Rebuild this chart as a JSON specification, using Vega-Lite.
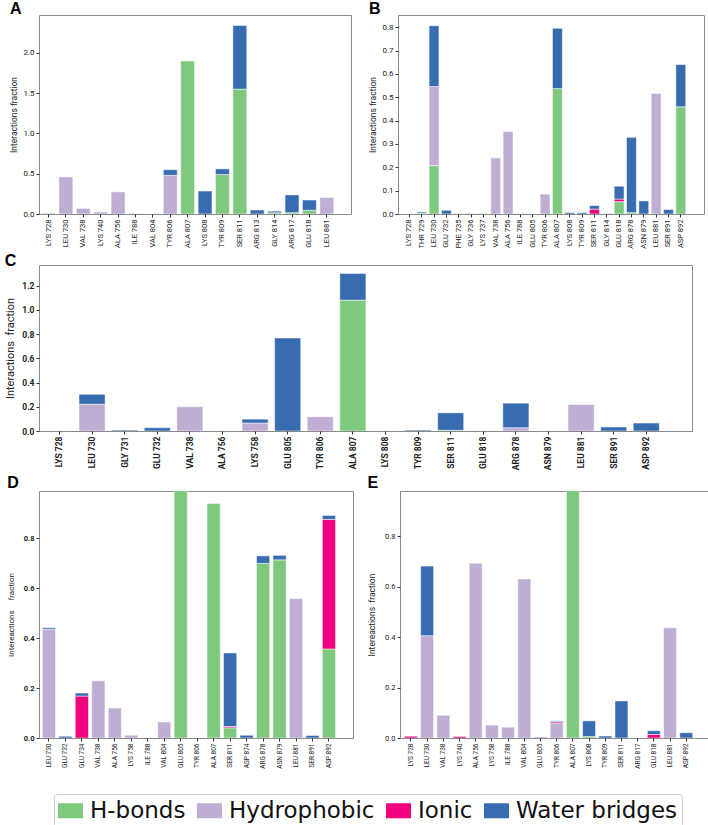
{
  "$schema": "https://vega.github.io/schema/vega-lite/v6.json",
  "background": "#ffffff",
  "padding": {"left": 4, "top": 0, "right": 1, "bottom": 1},
  "datasets": {
    "ints": [
      {"panel": "A", "res": "LYS 728", "type": "Hydrophobic", "value": 0.01},
      {"panel": "A", "res": "LEU 730", "type": "Hydrophobic", "value": 0.46},
      {"panel": "A", "res": "VAL 738", "type": "Hydrophobic", "value": 0.07},
      {"panel": "A", "res": "LYS 740", "type": "Hydrophobic", "value": 0.025},
      {"panel": "A", "res": "ALA 756", "type": "Hydrophobic", "value": 0.275},
      {"panel": "A", "res": "ILE 788", "type": "Hydrophobic", "value": 0.005},
      {"panel": "A", "res": "VAL 804", "type": "Hydrophobic", "value": 0.003},
      {"panel": "A", "res": "TYR 806", "type": "Hydrophobic", "value": 0.48},
      {"panel": "A", "res": "TYR 806", "type": "Water bridges", "value": 0.07},
      {"panel": "A", "res": "ALA 807", "type": "H-bonds", "value": 1.9},
      {"panel": "A", "res": "LYS 808", "type": "Water bridges", "value": 0.285},
      {"panel": "A", "res": "TYR 809", "type": "H-bonds", "value": 0.49},
      {"panel": "A", "res": "TYR 809", "type": "Water bridges", "value": 0.07},
      {"panel": "A", "res": "SER 811", "type": "H-bonds", "value": 1.55},
      {"panel": "A", "res": "SER 811", "type": "Water bridges", "value": 0.79},
      {"panel": "A", "res": "ARG 813", "type": "Water bridges", "value": 0.05},
      {"panel": "A", "res": "GLY 814", "type": "H-bonds", "value": 0.015},
      {"panel": "A", "res": "GLY 814", "type": "Water bridges", "value": 0.02},
      {"panel": "A", "res": "ARG 817", "type": "H-bonds", "value": 0.017},
      {"panel": "A", "res": "ARG 817", "type": "Water bridges", "value": 0.22},
      {"panel": "A", "res": "GLU 818", "type": "H-bonds", "value": 0.046},
      {"panel": "A", "res": "GLU 818", "type": "Water bridges", "value": 0.128},
      {"panel": "A", "res": "LEU 881", "type": "Hydrophobic", "value": 0.205},

      {"panel": "B", "res": "THR 729", "type": "H-bonds", "value": 0.004},
      {"panel": "B", "res": "THR 729", "type": "Water bridges", "value": 0.005},
      {"panel": "B", "res": "LEU 730", "type": "H-bonds", "value": 0.207},
      {"panel": "B", "res": "LEU 730", "type": "Hydrophobic", "value": 0.339},
      {"panel": "B", "res": "LEU 730", "type": "Water bridges", "value": 0.26},
      {"panel": "B", "res": "GLU 732", "type": "Water bridges", "value": 0.016},
      {"panel": "B", "res": "PHE 735", "type": "Hydrophobic", "value": 0.003},
      {"panel": "B", "res": "GLY 736", "type": "Hydrophobic", "value": 0.003},
      {"panel": "B", "res": "LYS 737", "type": "Hydrophobic", "value": 0.003},
      {"panel": "B", "res": "VAL 738", "type": "Hydrophobic", "value": 0.24},
      {"panel": "B", "res": "ALA 756", "type": "Hydrophobic", "value": 0.353},
      {"panel": "B", "res": "ILE 788", "type": "Hydrophobic", "value": 0.002},
      {"panel": "B", "res": "TYR 806", "type": "Hydrophobic", "value": 0.085},
      {"panel": "B", "res": "ALA 807", "type": "H-bonds", "value": 0.537},
      {"panel": "B", "res": "ALA 807", "type": "Water bridges", "value": 0.258},
      {"panel": "B", "res": "LYS 808", "type": "Water bridges", "value": 0.006},
      {"panel": "B", "res": "TYR 809", "type": "Water bridges", "value": 0.006},
      {"panel": "B", "res": "SER 811", "type": "Ionic", "value": 0.021},
      {"panel": "B", "res": "SER 811", "type": "Water bridges", "value": 0.015},
      {"panel": "B", "res": "GLY 814", "type": "Water bridges", "value": 0.002},
      {"panel": "B", "res": "GLU 818", "type": "H-bonds", "value": 0.053},
      {"panel": "B", "res": "GLU 818", "type": "Ionic", "value": 0.011},
      {"panel": "B", "res": "GLU 818", "type": "Water bridges", "value": 0.055},
      {"panel": "B", "res": "ARG 878", "type": "H-bonds", "value": 0.006},
      {"panel": "B", "res": "ARG 878", "type": "Water bridges", "value": 0.322},
      {"panel": "B", "res": "ASN 879", "type": "Water bridges", "value": 0.056},
      {"panel": "B", "res": "LEU 881", "type": "Hydrophobic", "value": 0.516},
      {"panel": "B", "res": "SER 891", "type": "Water bridges", "value": 0.019},
      {"panel": "B", "res": "ASP 892", "type": "H-bonds", "value": 0.459},
      {"panel": "B", "res": "ASP 892", "type": "Water bridges", "value": 0.181},

      {"panel": "C", "res": "LEU 730", "type": "Hydrophobic", "value": 0.221},
      {"panel": "C", "res": "LEU 730", "type": "Water bridges", "value": 0.082},
      {"panel": "C", "res": "GLY 731", "type": "Water bridges", "value": 0.008},
      {"panel": "C", "res": "GLU 732", "type": "Water bridges", "value": 0.027},
      {"panel": "C", "res": "VAL 738", "type": "Hydrophobic", "value": 0.2},
      {"panel": "C", "res": "LYS 758", "type": "Hydrophobic", "value": 0.066},
      {"panel": "C", "res": "LYS 758", "type": "Water bridges", "value": 0.032},
      {"panel": "C", "res": "GLU 805", "type": "Water bridges", "value": 0.768},
      {"panel": "C", "res": "TYR 806", "type": "Hydrophobic", "value": 0.118},
      {"panel": "C", "res": "ALA 807", "type": "H-bonds", "value": 1.08},
      {"panel": "C", "res": "ALA 807", "type": "Water bridges", "value": 0.22},
      {"panel": "C", "res": "TYR 809", "type": "Water bridges", "value": 0.008},
      {"panel": "C", "res": "SER 811", "type": "H-bonds", "value": 0.006},
      {"panel": "C", "res": "SER 811", "type": "Water bridges", "value": 0.144},
      {"panel": "C", "res": "GLU 818", "type": "Hydrophobic", "value": 0.003},
      {"panel": "C", "res": "ARG 878", "type": "Hydrophobic", "value": 0.027},
      {"panel": "C", "res": "ARG 878", "type": "Water bridges", "value": 0.203},
      {"panel": "C", "res": "LEU 881", "type": "Hydrophobic", "value": 0.219},
      {"panel": "C", "res": "SER 891", "type": "Water bridges", "value": 0.033},
      {"panel": "C", "res": "ASP 892", "type": "Water bridges", "value": 0.066},

      {"panel": "D", "res": "LEU 730", "type": "Hydrophobic", "value": 0.436},
      {"panel": "D", "res": "LEU 730", "type": "Water bridges", "value": 0.006},
      {"panel": "D", "res": "GLU 732", "type": "Water bridges", "value": 0.007},
      {"panel": "D", "res": "GLU 734", "type": "Ionic", "value": 0.168},
      {"panel": "D", "res": "GLU 734", "type": "Water bridges", "value": 0.012},
      {"panel": "D", "res": "VAL 738", "type": "Hydrophobic", "value": 0.229},
      {"panel": "D", "res": "ALA 756", "type": "Hydrophobic", "value": 0.12},
      {"panel": "D", "res": "LYS 758", "type": "Hydrophobic", "value": 0.011},
      {"panel": "D", "res": "ILE 788", "type": "Hydrophobic", "value": 0.002},
      {"panel": "D", "res": "VAL 804", "type": "Hydrophobic", "value": 0.064},
      {"panel": "D", "res": "GLU 805", "type": "H-bonds", "value": 1.0},
      {"panel": "D", "res": "TYR 806", "type": "Hydrophobic", "value": 0.002},
      {"panel": "D", "res": "ALA 807", "type": "H-bonds", "value": 0.94},
      {"panel": "D", "res": "SER 811", "type": "H-bonds", "value": 0.041},
      {"panel": "D", "res": "SER 811", "type": "Ionic", "value": 0.005},
      {"panel": "D", "res": "SER 811", "type": "Water bridges", "value": 0.295},
      {"panel": "D", "res": "ASP 874", "type": "Water bridges", "value": 0.011},
      {"panel": "D", "res": "ARG 878", "type": "H-bonds", "value": 0.7},
      {"panel": "D", "res": "ARG 878", "type": "Water bridges", "value": 0.03},
      {"panel": "D", "res": "ASN 879", "type": "H-bonds", "value": 0.714},
      {"panel": "D", "res": "ASN 879", "type": "Water bridges", "value": 0.018},
      {"panel": "D", "res": "LEU 881", "type": "Hydrophobic", "value": 0.559},
      {"panel": "D", "res": "SER 891", "type": "Water bridges", "value": 0.01},
      {"panel": "D", "res": "ASP 892", "type": "H-bonds", "value": 0.357},
      {"panel": "D", "res": "ASP 892", "type": "Ionic", "value": 0.519},
      {"panel": "D", "res": "ASP 892", "type": "Water bridges", "value": 0.016},

      {"panel": "E", "res": "LYS 728", "type": "Ionic", "value": 0.007},
      {"panel": "E", "res": "LEU 730", "type": "Hydrophobic", "value": 0.406},
      {"panel": "E", "res": "LEU 730", "type": "Water bridges", "value": 0.276},
      {"panel": "E", "res": "VAL 738", "type": "Hydrophobic", "value": 0.09},
      {"panel": "E", "res": "LYS 740", "type": "Ionic", "value": 0.006},
      {"panel": "E", "res": "ALA 756", "type": "Hydrophobic", "value": 0.693},
      {"panel": "E", "res": "LYS 758", "type": "Hydrophobic", "value": 0.051},
      {"panel": "E", "res": "ILE 788", "type": "Hydrophobic", "value": 0.043},
      {"panel": "E", "res": "VAL 804", "type": "Hydrophobic", "value": 0.631},
      {"panel": "E", "res": "GLU 805", "type": "Water bridges", "value": 0.003},
      {"panel": "E", "res": "TYR 806", "type": "Hydrophobic", "value": 0.06},
      {"panel": "E", "res": "TYR 806", "type": "Ionic", "value": 0.005},
      {"panel": "E", "res": "TYR 806", "type": "Water bridges", "value": 0.003},
      {"panel": "E", "res": "ALA 807", "type": "H-bonds", "value": 1.0},
      {"panel": "E", "res": "LYS 808", "type": "H-bonds", "value": 0.006},
      {"panel": "E", "res": "LYS 808", "type": "Water bridges", "value": 0.062},
      {"panel": "E", "res": "TYR 809", "type": "Water bridges", "value": 0.008},
      {"panel": "E", "res": "SER 811", "type": "Water bridges", "value": 0.147},
      {"panel": "E", "res": "GLU 818", "type": "Ionic", "value": 0.014},
      {"panel": "E", "res": "GLU 818", "type": "Water bridges", "value": 0.015},
      {"panel": "E", "res": "LEU 881", "type": "Hydrophobic", "value": 0.437},
      {"panel": "E", "res": "ASP 892", "type": "Water bridges", "value": 0.021}
    ]
  },
  "data": {"name": "ints"},
  "spacing": 3,
  "vconcat": [
    {
      "spacing": 16,
      "hconcat": [
        {
          "title": {"text": "A"},
          "width": 312,
          "height": 199,
          "transform": [{"filter": "datum.panel === 'A'"}],
          "mark": {"type": "bar", "stroke": "#ffffff", "strokeWidth": 0.5, "clip": true},
          "encoding": {
            "x": {
              "field": "res", "type": "nominal",
              "scale": {
                "domain": ["LYS 728", "LEU 730", "VAL 738", "LYS 740", "ALA 756", "ILE 788", "VAL 804", "TYR 806", "ALA 807", "LYS 808", "TYR 809", "SER 811", "ARG 813", "GLY 814", "ARG 817", "GLU 818", "LEU 881"],
                "paddingInner": 0.2, "paddingOuter": 0.57, "align": 0.13
              },
              "axis": {"title": null, "labelAngle": -90, "labelFontSize": 7.5}
            },
            "y": {
              "field": "value", "type": "quantitative", "stack": "zero",
              "scale": {"domain": [0, 2.47], "nice": false},
              "axis": {"title": "Interactions fraction", "values": [0, 0.5, 1, 1.5, 2], "format": ".1f", "labelFontSize": 8, "titleFontSize": 8.5, "titlePadding": 4}
            },
            "order": {"field": "type", "sort": "ascending"},
            "color": {
              "field": "type", "type": "nominal",
              "scale": {"domain": ["H-bonds", "Hydrophobic", "Ionic", "Water bridges"], "range": ["#7fc97f", "#beaed4", "#f0027f", "#386cb0"]},
              "legend": {"title": null, "orient": "none", "direction": "horizontal", "legendX": 15, "legendY": 779}
            }
          }
        },
        {
          "title": {"text": "B"},
          "width": 306,
          "height": 199,
          "transform": [{"filter": "datum.panel === 'B'"}],
          "mark": {"type": "bar", "stroke": "#ffffff", "strokeWidth": 0.5, "clip": true},
          "encoding": {
            "x": {
              "field": "res", "type": "nominal",
              "scale": {
                "domain": ["LYS 728", "THR 729", "LEU 730", "GLU 732", "PHE 735", "GLY 736", "LYS 737", "VAL 738", "ALA 756", "ILE 788", "GLU 805", "TYR 806", "ALA 807", "LYS 808", "TYR 809", "SER 811", "GLY 814", "GLU 818", "ARG 878", "ASN 879", "LEU 881", "SER 891", "ASP 892"],
                "paddingInner": 0.2, "paddingOuter": 1.14, "align": 0.26
              },
              "axis": {"title": null, "labelAngle": -90, "labelFontSize": 7.5}
            },
            "y": {
              "field": "value", "type": "quantitative", "stack": "zero",
              "scale": {"domain": [0, 0.852], "nice": false},
              "axis": {"title": "Interactions fraction", "values": [0, 0.1, 0.2, 0.3, 0.4, 0.5, 0.6, 0.7, 0.8], "format": ".1f", "labelFontSize": 8, "titleFontSize": 8.5, "titlePadding": 4}
            },
            "order": {"field": "type", "sort": "ascending"},
            "color": {
              "field": "type", "type": "nominal",
              "scale": {"domain": ["H-bonds", "Hydrophobic", "Ionic", "Water bridges"], "range": ["#7fc97f", "#beaed4", "#f0027f", "#386cb0"]},
              "legend": {"title": null, "orient": "none", "direction": "horizontal", "legendX": 15, "legendY": 779}
            }
          }
        }
      ]
    },
    {
      "title": {"text": "C", "offset": -4},
      "width": 653,
      "height": 166,
      "transform": [{"filter": "datum.panel === 'C'"}],
      "mark": {"type": "bar", "stroke": "#ffffff", "strokeWidth": 0.5, "clip": true},
      "encoding": {
        "x": {
          "field": "res", "type": "nominal",
          "scale": {
            "domain": ["LYS 728", "LEU 730", "GLY 731", "GLU 732", "VAL 738", "ALA 756", "LYS 758", "GLU 805", "TYR 806", "ALA 807", "LYS 808", "TYR 809", "SER 811", "GLU 818", "ARG 878", "ASN 879", "LEU 881", "SER 891", "ASP 892"],
            "paddingInner": 0.2, "paddingOuter": 0.615, "align": 0.185
          },
          "axis": {"title": null, "labelAngle": -90, "labelFontSize": 8.5, "labelFontWeight": "bold"}
        },
        "y": {
          "field": "value", "type": "quantitative", "stack": "zero",
          "scale": {"domain": [0, 1.37], "nice": false},
          "axis": {"title": "Interactions\u00a0\u00a0fraction", "values": [0, 0.2, 0.4, 0.6, 0.8, 1, 1.2], "format": ".1f", "labelFontSize": 8.5, "labelFontWeight": "bold", "titleFontSize": 11, "titlePadding": 6}
        },
        "order": {"field": "type", "sort": "ascending"},
        "color": {
          "field": "type", "type": "nominal",
          "scale": {"domain": ["H-bonds", "Hydrophobic", "Ionic", "Water bridges"], "range": ["#7fc97f", "#beaed4", "#f0027f", "#386cb0"]},
          "legend": {"title": null, "orient": "none", "direction": "horizontal", "legendX": 15, "legendY": 779}
        }
      }
    },
    {
      "spacing": 13,
      "hconcat": [
        {
          "title": {"text": "D", "offset": 0},
          "width": 314,
          "height": 247,
          "transform": [{"filter": "datum.panel === 'D'"}],
          "mark": {"type": "bar", "stroke": "#ffffff", "strokeWidth": 0.5, "clip": true},
          "encoding": {
            "x": {
              "field": "res", "type": "nominal",
              "scale": {
                "domain": ["LEU 730", "GLU 732", "GLU 734", "VAL 738", "ALA 756", "LYS 758", "ILE 788", "VAL 804", "GLU 805", "TYR 806", "ALA 807", "SER 811", "ASP 874", "ARG 878", "ASN 879", "LEU 881", "SER 891", "ASP 892"],
                "paddingInner": 0.2, "paddingOuter": 0.63, "align": 0.16
              },
              "axis": {"title": null, "labelAngle": -90, "labelFontSize": 6.5}
            },
            "y": {
              "field": "value", "type": "quantitative", "stack": "zero",
              "scale": {"domain": [0, 0.99], "nice": false},
              "axis": {"title": "Intereactions\u00a0\u00a0\u00a0\u00a0\u00a0fraction", "values": [0, 0.2, 0.4, 0.6, 0.8], "format": ".1f", "labelFontSize": 7.5, "labelFontWeight": "bold", "titleFontSize": 8, "titlePadding": 8}
            },
            "order": {"field": "type", "sort": "ascending"},
            "color": {
              "field": "type", "type": "nominal",
              "scale": {"domain": ["H-bonds", "Hydrophobic", "Ionic", "Water bridges"], "range": ["#7fc97f", "#beaed4", "#f0027f", "#386cb0"]},
              "legend": {"title": null, "orient": "none", "direction": "horizontal", "legendX": 15, "legendY": 779}
            }
          }
        },
        {
          "title": {"text": "E", "offset": 0},
          "width": 309,
          "height": 247,
          "transform": [{"filter": "datum.panel === 'E'"}],
          "mark": {"type": "bar", "stroke": "#ffffff", "strokeWidth": 0.5, "clip": true},
          "encoding": {
            "x": {
              "field": "res", "type": "nominal",
              "scale": {
                "domain": ["LYS 728", "LEU 730", "VAL 738", "LYS 740", "ALA 756", "LYS 758", "ILE 788", "VAL 804", "GLU 805", "TYR 806", "ALA 807", "LYS 808", "TYR 809", "SER 811", "ARG 817", "GLU 818", "LEU 881", "ASP 892"],
                "paddingInner": 0.2, "paddingOuter": 0.64, "align": 0.215
              },
              "axis": {"title": null, "labelAngle": -90, "labelFontSize": 6.5}
            },
            "y": {
              "field": "value", "type": "quantitative", "stack": "zero",
              "scale": {"domain": [0, 0.98], "nice": false},
              "axis": {"title": "Intereactions\u00a0\u00a0fraction", "values": [0, 0.2, 0.4, 0.6, 0.8], "format": ".1f", "labelFontSize": 7.5, "titleFontSize": 8.5, "titlePadding": 8}
            },
            "order": {"field": "type", "sort": "ascending"},
            "color": {
              "field": "type", "type": "nominal",
              "scale": {"domain": ["H-bonds", "Hydrophobic", "Ionic", "Water bridges"], "range": ["#7fc97f", "#beaed4", "#f0027f", "#386cb0"]},
              "legend": {"title": null, "orient": "none", "direction": "horizontal", "legendX": 15, "legendY": 779}
            }
          }
        }
      ]
    }
  ],
  "config": {
    "view": {"stroke": "#8a8a8a", "strokeWidth": 1},
    "axis": {
      "grid": false, "domain": false, "tickSize": 3, "tickColor": "#333333",
      "labelFont": "Roboto", "titleFont": "Roboto", "labelColor": "#222222", "titleColor": "#222222",
      "labelPadding": 2, "titleFontWeight": "normal"
    },
    "title": {"anchor": "start", "frame": "bounds", "font": "Liberation Sans", "fontSize": 16, "fontWeight": "bold", "color": "#000000", "offset": -2},
    "legend": {
      "labelFont": "DejaVu Sans", "labelFontSize": 23, "labelColor": "#111111", "labelLimit": 400,
      "symbolType": "M-1,-0.6H1V0.6H-1Z", "symbolSize": 625, "symbolStrokeWidth": 0,
      "labelOffset": 7, "columnPadding": 11, "padding": 4,
      "strokeColor": "#cccccc", "cornerRadius": 3
    }
  }
}
